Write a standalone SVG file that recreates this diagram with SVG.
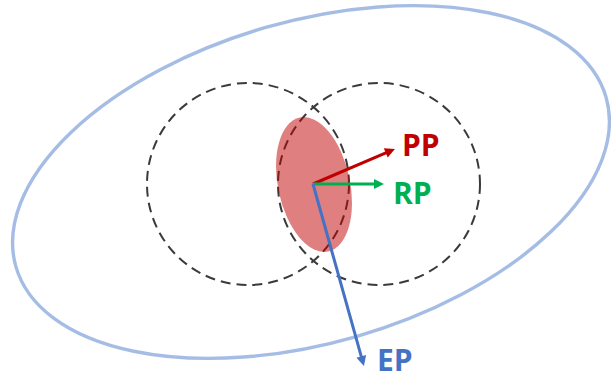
<svg xmlns="http://www.w3.org/2000/svg" width="611" height="375" viewBox="0 0 611 375">
  <style>
    .outer { fill: none; stroke: #A5BDE4; stroke-width: 3.4; }
    .dash { fill: none; stroke: #3A3A3A; stroke-width: 2; stroke-dasharray: 10 6; }
    .blob { fill: #C00000; fill-opacity: 0.5; }
    .vec { fill: none; stroke-width: 3; }
    .lbl { font-family: "Open Sans", "Noto Sans", "Liberation Sans", sans-serif; font-weight: bold; font-size: 30px; }
  </style>
  <defs>
    <marker id="hPP" viewBox="0 0 10 10" refX="2" refY="5" markerWidth="11" markerHeight="10" markerUnits="userSpaceOnUse" orient="auto">
      <path d="M0,0 L10,5 L0,10 z" fill="#C00000"/>
    </marker>
    <marker id="hRP" viewBox="0 0 10 10" refX="2" refY="5" markerWidth="11" markerHeight="10" markerUnits="userSpaceOnUse" orient="auto">
      <path d="M0,0 L10,5 L0,10 z" fill="#00B050"/>
    </marker>
    <marker id="hEP" viewBox="0 0 10 10" refX="2" refY="5" markerWidth="11" markerHeight="10" markerUnits="userSpaceOnUse" orient="auto">
      <path d="M0,0 L10,5 L0,10 z" fill="#4472C4"/>
    </marker>
  </defs>
  <rect width="611" height="375" fill="#FFFFFF"/>
  <g id="outer-region">
    <ellipse class="outer" cx="311" cy="182" rx="307" ry="161" transform="rotate(-16 311 182)"/>
  </g>
  <g id="circle-left">
    <circle class="dash" cx="248" cy="184" r="101"/>
  </g>
  <g id="circle-right">
    <circle class="dash" cx="379" cy="184" r="101"/>
  </g>
  <g id="blob">
    <ellipse class="blob" cx="314" cy="184.5" rx="36" ry="68.5" transform="rotate(-12 314 184.5)"/>
  </g>
  <g id="connectors">
    <line class="vec" x1="313" y1="184" x2="387.6" y2="152.1" stroke="#C00000" marker-end="url(#hPP)"/>
    <line class="vec" x1="313" y1="184" x2="376" y2="184" stroke="#00B050" marker-end="url(#hRP)"/>
    <line class="vec" x1="313" y1="184" x2="361.8" y2="358.3" stroke="#4472C4" marker-end="url(#hEP)"/>
  </g>
  <g id="label-PP">
    <text class="lbl" x="402" y="156" fill="#C00000">PP</text>
  </g>
  <g id="label-RP">
    <text class="lbl" x="393" y="204" fill="#00B050">RP</text>
  </g>
  <g id="label-EP">
    <text class="lbl" x="377" y="371" fill="#4472C4">EP</text>
  </g>
</svg>
